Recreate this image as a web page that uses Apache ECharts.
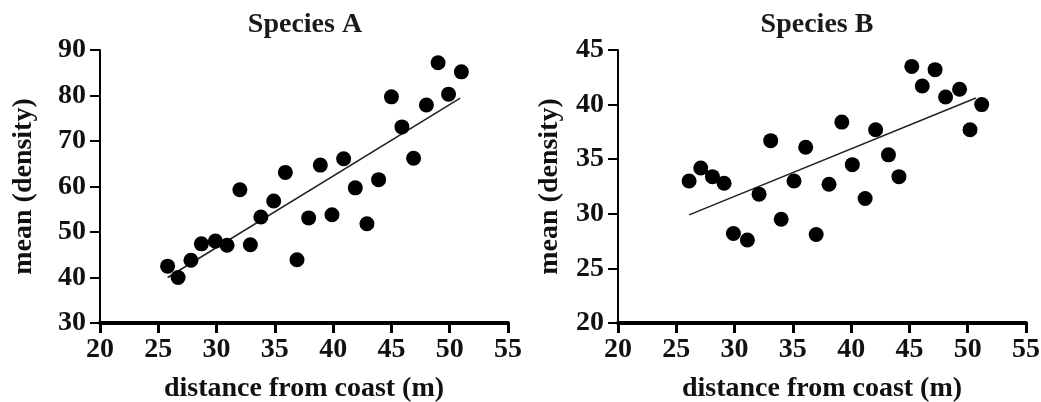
<!DOCTYPE html>
<html>
<head>
<meta charset="utf-8">
<script src="https://cdn.jsdelivr.net/npm/echarts@6/dist/echarts.min.js"></script>
<style>
  html, body { margin: 0; padding: 0; background: #fff; }
  #chart { width: 1041px; height: 402px; }
</style>
</head>
<body>
<div id="chart"></div>
<script>
// Species A: distance from coast (m) vs mean density
const distA = [25.8, 26.7, 27.8, 28.7, 29.9, 30.9, 32.0, 32.9, 33.8, 34.9, 35.9, 36.9, 37.9, 38.9, 39.9, 40.9, 41.9, 42.9, 43.9, 45.0, 45.9, 46.9, 48.0, 49.0, 49.9, 51.0]
const densA = [42.5, 40.0, 43.8, 47.4, 48.0, 47.1, 59.3, 47.2, 53.3, 56.8, 63.1, 43.9, 53.1, 64.7, 53.8, 66.1, 59.7, 51.8, 61.5, 79.7, 73.1, 66.2, 77.9, 87.2, 80.3, 85.2]
const fitAx = [25.8, 50.9]
const fitAy = [40.0, 79.4]

// Species B
const distB = [26.1, 27.1, 28.1, 29.1, 29.9, 31.1, 32.1, 33.1, 34.0, 35.1, 36.1, 37.0, 38.1, 39.2, 40.1, 41.2, 42.1, 43.2, 44.1, 45.2, 46.1, 47.2, 48.1, 49.3, 50.2, 51.2]
const densB = [33.0, 34.2, 33.4, 32.8, 28.2, 27.6, 31.8, 36.7, 29.5, 33.0, 36.1, 28.1, 32.7, 38.4, 34.5, 31.4, 37.7, 35.4, 33.4, 43.5, 41.7, 43.2, 40.7, 41.4, 37.7, 40.0]
const fitBx = [26.1, 50.7]
const fitBy = [29.9, 40.6]

const xTicks = [20, 25, 30, 35, 40, 45, 50, 55]
const yTicksA = [30, 40, 50, 60, 70, 80, 90]
const yTicksB = [20, 25, 30, 35, 40, 45]

const myChart = echarts.init(document.getElementById('chart'))
const font = 'Liberation Serif'

function pairs (xs, ys) {
  return xs.map((x, i) => [x, ys[i]])
}

function xAxisCfg (gridIndex) {
  return {
    gridIndex: gridIndex,
    type: 'value',
    min: xTicks[0],
    max: xTicks[xTicks.length - 1],
    interval: 5,
    name: 'distance from coast (m)',
    nameLocation: 'middle',
    nameGap: 52,
    nameTextStyle: { fontFamily: font, fontSize: 28, fontWeight: 'bold', color: '#111' },
    axisLine: { onZero: false, lineStyle: { color: '#000', width: 4 } },
    axisTick: { length: 10, lineStyle: { color: '#000', width: 3 } },
    axisLabel: { margin: 13, fontFamily: font, fontSize: 28, fontWeight: 'bold', color: '#111' },
    splitLine: { show: false }
  }
}

function yAxisCfg (gridIndex, ticks, gap) {
  return {
    gridIndex: gridIndex,
    type: 'value',
    min: ticks[0],
    max: ticks[ticks.length - 1],
    interval: ticks[1] - ticks[0],
    name: 'mean (density)',
    nameLocation: 'middle',
    nameGap: gap,
    nameRotate: 90,
    nameTextStyle: { fontFamily: font, fontSize: 28, fontWeight: 'bold', color: '#111' },
    axisLine: { onZero: false, lineStyle: { color: '#000', width: 2 } },
    axisTick: { length: 10, lineStyle: { color: '#000', width: 2 } },
    axisLabel: { margin: 14, fontFamily: font, fontSize: 28, fontWeight: 'bold', color: '#111' },
    splitLine: { show: false }
  }
}

const option = {
  animation: false,
  backgroundColor: '#fff',
  title: [
    {
      text: 'Species A',
      left: 300,
      top: 6,
      textAlign: 'center',
      textStyle: { fontFamily: font, fontSize: 28, fontWeight: 'bold', color: '#1a1a1a' }
    },
    {
      text: 'Species B',
      left: 812,
      top: 6,
      textAlign: 'center',
      textStyle: { fontFamily: font, fontSize: 28, fontWeight: 'bold', color: '#1a1a1a' }
    }
  ],
  grid: [
    { left: 100, top: 50, width: 408, height: 273, outerBoundsMode: 'none' },
    { left: 618, top: 50, width: 408, height: 273, outerBoundsMode: 'none' }
  ],
  xAxis: [xAxisCfg(0), xAxisCfg(1)],
  yAxis: [yAxisCfg(0, yTicksA, 62), yAxisCfg(1, yTicksB, 54)],
  series: [
    {
      type: 'line',
      xAxisIndex: 0,
      yAxisIndex: 0,
      data: pairs(fitAx, fitAy),
      symbol: 'none',
      lineStyle: { color: '#222', width: 1.5 },
      z: 1
    },
    {
      type: 'scatter',
      xAxisIndex: 0,
      yAxisIndex: 0,
      data: pairs(distA, densA),
      symbolSize: 15,
      itemStyle: { color: '#000', opacity: 1 },
      z: 2
    },
    {
      type: 'line',
      xAxisIndex: 1,
      yAxisIndex: 1,
      data: pairs(fitBx, fitBy),
      symbol: 'none',
      lineStyle: { color: '#222', width: 1.5 },
      z: 1
    },
    {
      type: 'scatter',
      xAxisIndex: 1,
      yAxisIndex: 1,
      data: pairs(distB, densB),
      symbolSize: 15,
      itemStyle: { color: '#000', opacity: 1 },
      z: 2
    }
  ]
}

myChart.setOption(option)
</script>
</body>
</html>
